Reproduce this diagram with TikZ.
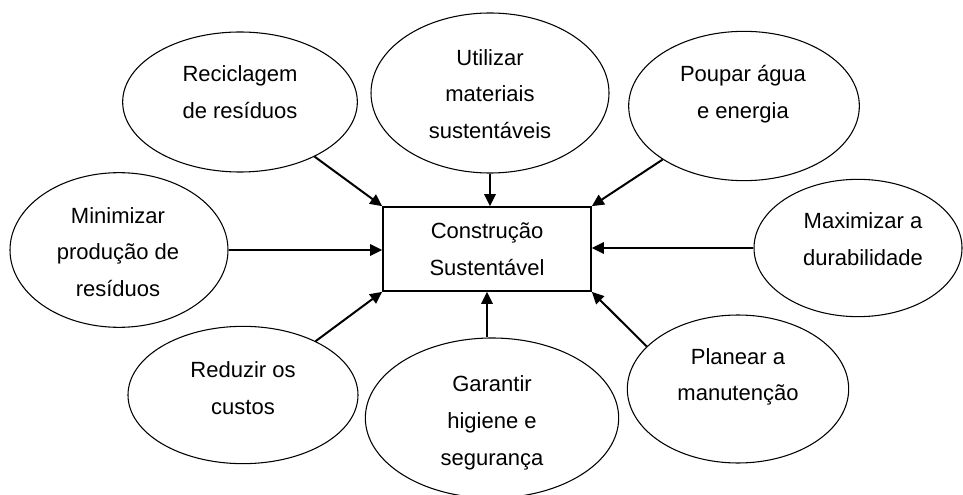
\documentclass[tikz,border=0pt]{standalone}
\usepackage{fontspec}
\setmainfont{Liberation Sans}
\usetikzlibrary{shapes.geometric}
\usetikzlibrary{arrows.meta,arrows}

\begin{document}
\begin{tikzpicture}[x=0.75pt,y=-0.75pt,
  bubble/.style={draw,ellipse,line width=0.8pt,inner sep=0pt},
  words/.style={align=center,inner sep=0pt,font=\fontsize{16.5pt}{27.5pt}\selectfont},
  goal/.style={draw,line width=1.3pt,minimum width=156pt,minimum height=63pt,inner sep=0pt,align=center,font=\fontsize{16.5pt}{27.5pt}\selectfont},
  push/.style={line width=1.5pt,-{Triangle[length=9pt,width=8.5pt]}}]
\useasboundingbox (0,0) rectangle (963,495);

%%%%%the centre box
\node[goal] (box) at (487,249) {Constru\c{c}\~ao\\Sustent\'avel};

%%%%%the ellipses round it
\node[bubble,minimum width=176pt,minimum height=105pt] (recic) at (240,102) {};
\node[words] (recic-t) at (240,92) {Reciclagem\\de res\'iduos};
\node[bubble,minimum width=178.5pt,minimum height=120pt] (util) at (490,93) {};
\node[words] (util-t) at (490,94) {Utilizar\\materiais\\sustent\'aveis};
\node[bubble,minimum width=173pt,minimum height=112pt] (poup) at (744,106) {};
\node[words] (poup-t) at (743,94) {Poupar \'agua\\e energia};
\node[bubble,minimum width=156pt,minimum height=103pt] (maxi) at (858,248) {};
\node[words] (maxi-t) at (863,239) {Maximizar a\\durabilidade};
\node[bubble,minimum width=163.5pt,minimum height=116pt] (mini) at (119,250) {};
\node[words] (mini-t) at (118,252) {Minimizar\\produ\c{c}\~ao de\\res\'iduos};
\node[bubble,minimum width=172.5pt,minimum height=103pt] (redu) at (243,395) {};
\node[words] (redu-t) at (243,388) {Reduzir os\\custos};
\node[bubble,minimum width=190pt,minimum height=120pt] (gara) at (492,418) {};
\node[words] (gara-t) at (492,423) {Garantir\\higiene e\\seguran\c{c}a};
\node[bubble,minimum width=166pt,minimum height=111pt] (plan) at (738,389) {};
\node[words] (plan-t) at (738,377) {Planear a\\manuten\c{c}\~ao};

%%%%%arrows into the box
\draw[push] (recic) -- (box.north west);
\draw[push] (util.south) -- (util.south |- box.north);
\draw[push] (poup) -- (box.north east);
\draw[push] (mini.east) -- (mini.east -| box.west);
\draw[push] (maxi.west) -- (maxi.west -| box.east);
\draw[push] (redu) -- (box.south west);
\draw[push] (gara.north -| box.south) -- (box.south);
\draw[push] (plan.155) -- (box.south east);
\end{tikzpicture}
\end{document}
